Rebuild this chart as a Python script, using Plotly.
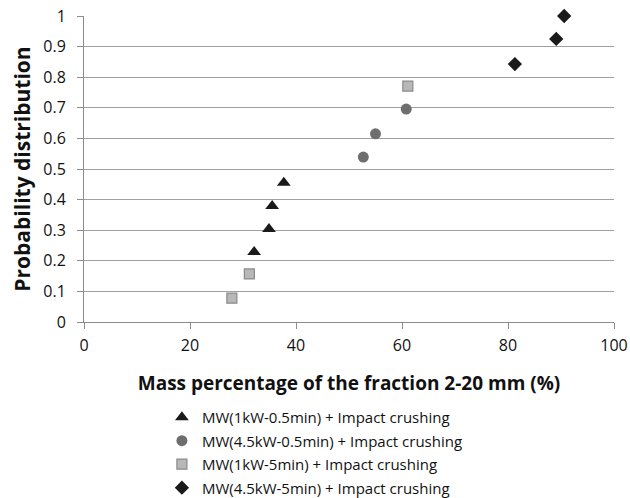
import plotly.graph_objects as go

series_names = [
    "MW(1kW-0.5min) + Impact crushing",
    "MW(4.5kW-0.5min) + Impact crushing",
    "MW(1kW-5min) + Impact crushing",
    "MW(4.5kW-5min) + Impact crushing",
]
tri_x = [32.1, 34.9, 35.5, 37.7]
tri_y = [0.229, 0.304, 0.379, 0.455]
cir_x = [52.7, 55.0, 60.8]
cir_y = [0.539, 0.615, 0.696]
sq_x = [27.9, 31.2, 61.1]
sq_y = [0.078, 0.157, 0.771]
dia_x = [81.3, 89.1, 90.6]
dia_y = [0.843, 0.925, 1.0]

fig = go.Figure()
fig.add_trace(go.Scatter(x=tri_x, y=tri_y, mode="markers", name=series_names[0], legendgroup="a",
                         cliponaxis=False,
                         marker=dict(symbol="triangle-up", size=12, color="#1a1a1a")))
fig.add_trace(go.Scatter(x=cir_x, y=cir_y, mode="markers", name=series_names[1], legendgroup="b",
                         cliponaxis=False,
                         marker=dict(symbol="circle", size=11, color="#6e6e6e")))
fig.add_trace(go.Scatter(x=sq_x, y=sq_y, mode="markers", name=series_names[2], legendgroup="c",
                         cliponaxis=False,
                         marker=dict(symbol="square", size=10, color="#b8b8b8",
                                     line=dict(color="#8a8a8a", width=1.2))))
fig.add_trace(go.Scatter(x=dia_x, y=dia_y, mode="markers", name=series_names[3], legendgroup="d",
                         cliponaxis=False,
                         marker=dict(symbol="diamond", size=11, color="#1a1a1a")))

font_family = "'Open Sans', sans-serif"
fig.update_layout(
    width=630, height=498,
    margin=dict(l=84, r=16, t=16, b=176, autoexpand=False),
    paper_bgcolor="white", plot_bgcolor="white",
    font=dict(family=font_family, color="#111111", size=13),
    showlegend=True,
    legend=dict(x=0.147, y=-0.258, xanchor="left", yanchor="top",
                font=dict(size=15, family=font_family, color="#111111"), tracegroupgap=1,
                itemwidth=30, bgcolor="rgba(0,0,0,0)"),
    xaxis=dict(range=[0, 100], tickvals=[0, 20, 40, 60, 80, 100], automargin=False,
               showgrid=False, zeroline=False, showline=True, linecolor="#8c8c8c",
               linewidth=1, ticks="outside", ticklen=6, tickcolor="#8c8c8c",
               ticklabelstandoff=3, ticklabeloverflow="allow",
               tickfont=dict(size=16, color="#111111"),
               title=dict(text="<b>Mass percentage of the fraction 2-20 mm (%)</b>",
                          font=dict(size=19), standoff=21)),
    yaxis=dict(range=[0, 1], tickvals=[0, 0.1, 0.2, 0.3, 0.4, 0.5, 0.6, 0.7, 0.8, 0.9, 1],
               ticktext=["0", "0.1", "0.2", "0.3", "0.4", "0.5", "0.6", "0.7", "0.8", "0.9", "1"],
               automargin=False,
               showgrid=True, gridcolor="#a0a0a0", gridwidth=1,
               zeroline=False, showline=True, linecolor="#8c8c8c", linewidth=1,
               ticks="outside", ticklen=6, tickcolor="#8c8c8c",
               ticklabelstandoff=8, ticklabeloverflow="allow",
               tickfont=dict(size=16, color="#111111"),
               title=dict(text="<b>Probability distribution</b>", font=dict(size=21), standoff=6)),
)

fig.write_html("out.html", config={"displayModeBar": False},
               post_script="document.body.style.margin='0';")
